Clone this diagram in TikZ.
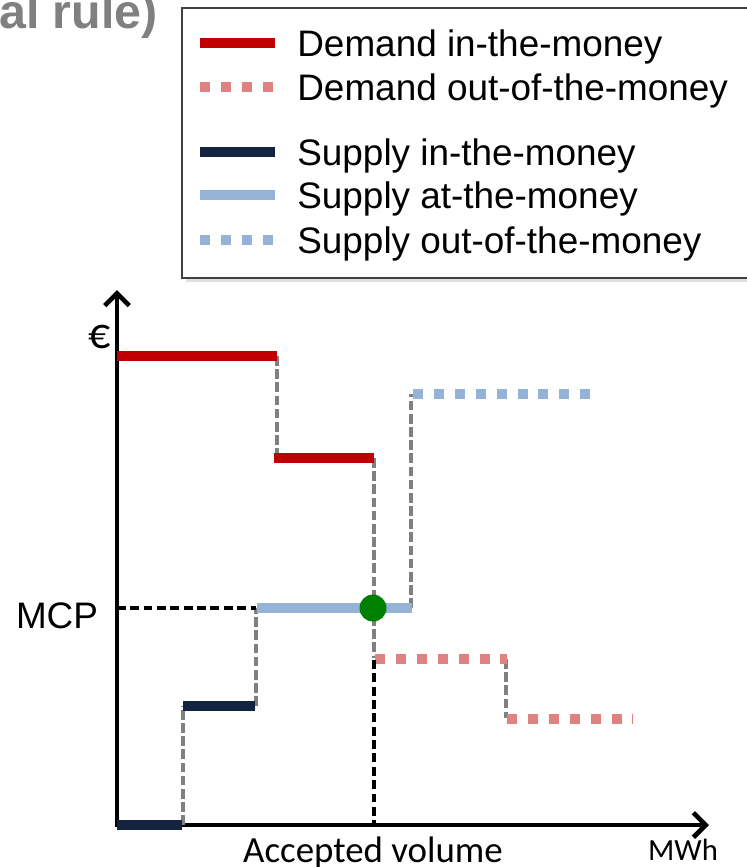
\documentclass[tikz,border=0pt]{standalone}
\usepackage{fontspec}
\setmainfont{Liberation Sans}
\newfontfamily\calibri{Carlito}
\usetikzlibrary{arrows.meta}
\definecolor{demandred}{HTML}{C00000}
\definecolor{demandpink}{HTML}{E08282}
\definecolor{supplynavy}{HTML}{12243F}
\definecolor{supplyblue}{HTML}{95B3D7}
\definecolor{guidegray}{HTML}{808080}
\definecolor{mcpgreen}{HTML}{008000}
\tikzset{
	demandin/.style={line width=5.7pt, color=demandred},
	demandout/.style={line width=5.7pt, color=demandpink, dash pattern=on 5.7pt off 6.2pt},
	supplyin/.style={line width=5.7pt, color=supplynavy},
	supplyat/.style={line width=5.7pt, color=supplyblue},
	supplyout/.style={line width=5.7pt, color=supplyblue, dash pattern=on 5.7pt off 6.2pt},
	guide/.style={line width=2.2pt, color=guidegray, dash pattern=on 5.5pt off 2pt},
	markline/.style={line width=2.4pt, color=black, dash pattern=on 5pt off 2.6pt},
	axis/.style={line width=2.7pt, arrows={Straight Barb[length=7pt,width=14pt]-Straight Barb[length=7pt,width=14pt]}},
	legendtext/.style={anchor=base west, inner sep=0pt, font=\fontsize{21}{25}\selectfont},
}

\begin{document}
\begin{tikzpicture}[x=0.02cm, y=-0.02cm]
			%%%%% START %%%%%
			\useasboundingbox (0, 0) rectangle (747, 867);
			
			\node[anchor=base east, inner sep=0pt, font=\fontsize{27.5}{32}\selectfont\bfseries, color=guidegray] (title) at (158, 28) {al rule)};
			
			%% legend
			\fill[black!12] (186, 12) rectangle (755, 282);
			\draw[line width=0.6pt, color=black!75, fill=white] (182, 8) rectangle (752, 278);
			
			\draw[demandin] (200, 43) -- (275, 43);
			\node[legendtext] (lgdemin) at (297, 56) {Demand in-the-money};
			\draw[demandout] (200, 87) -- (275, 87);
			\node[legendtext] (lgdemout) at (297, 100) {Demand out-of-the-money};
			\draw[supplyin] (200, 152) -- (275, 152);
			\node[legendtext] (lgsupin) at (297, 165) {Supply in-the-money};
			\draw[supplyat] (200, 195) -- (275, 195);
			\node[legendtext] (lgsupat) at (297, 208) {Supply at-the-money};
			\draw[supplyout] (200, 240) -- (275, 240);
			\node[legendtext] (lgsupout) at (297, 253) {Supply out-of-the-money};
			
			%% axes
			\coordinate (origin) at (117, 825);
			\coordinate (ytip) at (117, 290);
			\coordinate (xtip) at (709, 825);
			\coordinate (eq) at (373, 608);
			
			\draw[axis] (ytip) -- (origin) -- (xtip);
			
			\node[inner sep=0pt, font=\calibri\fontsize{25}{28}\selectfont] (euro) at (100, 337) {€};
			\node[anchor=base, inner sep=0pt, font=\fontsize{21}{25}\selectfont] (mcp) at (57, 628) {MCP};
			\node[anchor=base, inner sep=0pt, font=\calibri\fontsize{21}{25}\selectfont] (accvol) at (373, 862) {Accepted volume};
			\node[anchor=base, inner sep=0pt, font=\calibri\fontsize{17.5}{20}\selectfont] (mwh) at (683, 860) {MWh};
			
			%% step guides
			\draw[guide] (277, 356) -- (277, 458);
			\draw[guide] (374, 458) -- (374, 658);
			\draw[guide] (506, 659) -- (506, 718);
			\draw[guide] (183, 825) -- (183, 706);
			\draw[guide] (256, 706) -- (256, 608);
			\draw[guide] (411, 608) -- (411, 394);
			
			%% demand
			\draw[demandin] (117, 356) -- (277, 356);
			\draw[demandin] (274, 458) -- (374, 458);
			\draw[demandout] (375, 659) -- (507, 659);
			\draw[demandout] (507, 719) -- (633, 719);
			
			%% supply
			\draw[supplyin] (117, 825) -- (182, 825);
			\draw[supplyin] (183, 706) -- (255, 706);
			\draw[supplyat] (257, 608) -- (412, 608);
			\draw[supplyout] (413, 394) -- (592, 394);
			
			%% clearing point
			\draw[markline] (origin |- eq) -- (256, 608);
			\draw[markline] (374, 660) -- (origin -| 374, 0);
			\fill[mcpgreen] (eq) circle [radius=13.5];
			
			%%%%% END %%%%%
\end{tikzpicture}
\end{document}
